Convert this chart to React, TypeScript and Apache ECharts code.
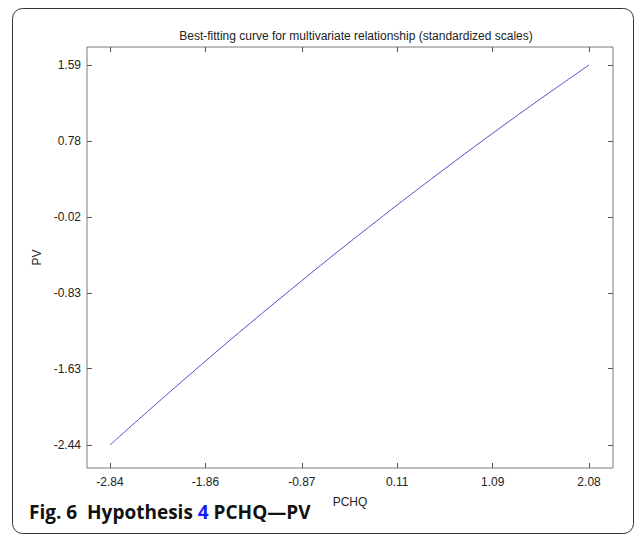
import React, { useEffect, useRef } from "react";
import * as echarts from "echarts";

const xValues = [-2.84, -2.43, -1.9, -1.4, -0.87, -0.48, 0.11, 0.34, 0.8, 1.25, 1.7, 2.08];
const yValues = [-2.44, -2.063, -1.586, -1.148, -0.697, -0.372, 0.106, 0.288, 0.645, 0.986, 1.317, 1.59];
const xTicks = [-2.84, -1.86, -0.87, 0.11, 1.09, 2.08];
const yTicks = [-2.44, -1.63, -0.83, -0.02, 0.78, 1.59];
const titleText = "Best-fitting curve for multivariate relationship (standardized scales)";
const xName = "PCHQ";
const yName = "PV";

const X_MIN = -3.076;
const X_MAX = 2.326;
const Y_MIN = -2.684;
const Y_MAX = 1.781;

const FONT = "'Liberation Sans', Arial, sans-serif";
const CAPFONT = "'Open Sans', 'Noto Sans', sans-serif";

export default function App() {
  const ref = useRef<HTMLDivElement>(null);
  useEffect(() => {
    if (!ref.current) return;
    const chart = echarts.init(ref.current, null, { renderer: "svg" });
    const tickStyle = { show: true, inside: true, length: 5, lineStyle: { color: "#555", width: 1 } };
    const lineHidden = { show: false, onZero: false };
    const fmt = (v: number) => v.toFixed(2);
    chart.setOption({
      animation: false,
      backgroundColor: "#fff",
      title: {
        text: titleText,
        left: 351,
        textAlign: "center",
        top: 25,
        textStyle: { fontFamily: FONT, fontSize: 12, fontWeight: "normal", color: "#222" },
      },
      grid: { left: 87, right: 25, top: 47, bottom: 68, show: true, borderColor: "#7a7a7a", borderWidth: 1, backgroundColor: "#fff" },
      xAxis: [
        {
          type: "value",
          min: X_MIN,
          max: X_MAX,
          position: "bottom",
          name: xName,
          nameLocation: "middle",
          nameGap: 28,
          nameTextStyle: { fontFamily: FONT, fontSize: 12, color: "#222" },
          axisLine: lineHidden,
          splitLine: { show: false },
          axisTick: { ...tickStyle, customValues: xTicks },
          axisLabel: { customValues: xTicks, formatter: fmt, fontFamily: FONT, fontSize: 12, color: "#222", margin: 8 },
        },
        {
          type: "value",
          min: X_MIN,
          max: X_MAX,
          position: "top",
          axisLine: lineHidden,
          splitLine: { show: false },
          axisTick: { ...tickStyle, customValues: xTicks },
          axisLabel: { show: false, customValues: xTicks },
        },
      ],
      yAxis: [
        {
          type: "value",
          min: Y_MIN,
          max: Y_MAX,
          position: "left",
          name: yName,
          nameLocation: "middle",
          nameGap: 42,
          nameTextStyle: { fontFamily: FONT, fontSize: 12, color: "#222" },
          axisLine: lineHidden,
          splitLine: { show: false },
          axisTick: { ...tickStyle, customValues: yTicks },
          axisLabel: { customValues: yTicks, formatter: fmt, fontFamily: FONT, fontSize: 12, color: "#222", margin: 6 },
        },
        {
          type: "value",
          min: Y_MIN,
          max: Y_MAX,
          position: "right",
          axisLine: lineHidden,
          splitLine: { show: false },
          axisTick: { ...tickStyle, customValues: yTicks },
          axisLabel: { show: false, customValues: yTicks },
        },
      ],
      series: [
        {
          type: "line",
          data: xValues.map((x, i) => [x, yValues[i]]),
          smooth: 0.3,
          showSymbol: false,
          symbol: "none",
          lineStyle: { color: "#5050d4", width: 1 },
          xAxisIndex: 0,
          yAxisIndex: 0,
        },
      ],
      graphic: [
        {
          type: "rect",
          shape: { x: 12.5, y: 8.5, width: 621, height: 525, r: 10 },
          style: { fill: "none", stroke: "#333", lineWidth: 1 },
          silent: true,
          z: 100,
        },
        {
          type: "text",
          left: 29,
          top: 502,
          style: {
            text: "{b|Fig. 6}  {b|Hypothesis }{blue|4}{b| PCHQ\u2014PV}",
            rich: {
              b: { fontFamily: CAPFONT, fontSize: 19, fontWeight: "bold", fill: "#111" },
              blue: { fontFamily: CAPFONT, fontSize: 19, fontWeight: "bold", fill: "#1a1aff" },
            },
            fontFamily: CAPFONT,
            fontSize: 19,
            fontWeight: "bold",
          },
        },
      ],
    });
    return () => chart.dispose();
  }, []);
  return <div ref={ref} style={{ position: "fixed", left: 0, top: 0, width: 638, height: 536 }} />;
}
